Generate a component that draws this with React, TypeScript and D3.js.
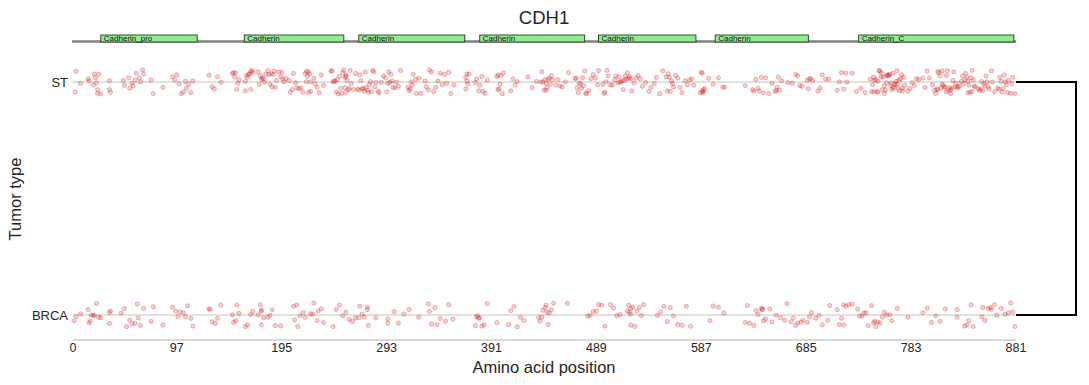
import React from "react";
import * as d3 from "d3";

const GENE = "CDH1";
const PROTEIN_LENGTH = 881;
const X_TICKS = [0, 97, 195, 293, 391, 489, 587, 685, 783, 881];
const TUMOR_TYPES = ["ST", "BRCA"];

const DOMAIN_NAMES = ["Cadherin_pro", "Cadherin", "Cadherin", "Cadherin", "Cadherin", "Cadherin", "Cadherin_C"];
const DOMAIN_STARTS = [26, 160, 267, 380, 491, 600, 734];
const DOMAIN_ENDS = [116, 253, 366, 478, 582, 687, 879];

const ST_POSITIONS = [
  2, 3, 7, 14, 15, 19, 20, 21, 22, 23, 23, 24, 26, 34, 34, 35, 47, 48,
  52, 53, 55, 56, 58, 59, 62, 63, 65, 66, 73, 75, 84, 93, 95, 97, 99, 101,
  103, 105, 106, 108, 110, 112, 127, 130, 132, 135, 138,
  149, 150, 151, 152, 153, 154, 155,
  161, 161, 162, 163, 164, 165, 166, 166, 167, 168,
  173, 174, 175, 176, 177, 178, 179, 180,
  182, 183, 184, 185, 186, 187, 188, 189, 190, 192,
  194, 195, 196, 197, 199,
  202, 203, 205, 206, 208, 209, 211, 213, 215, 217,
  218, 218, 219, 220, 220, 221, 222, 222,
  225, 226, 228, 230, 232, 234,
  241, 242, 243, 244, 245, 246, 247, 248, 249, 250, 251, 252, 253, 254, 254, 255, 255, 255, 256, 257, 258, 259, 260, 262, 264,
  266, 267, 268, 269, 270, 271, 272, 273, 274, 275, 276, 277, 278, 279, 280, 281, 282, 283, 285, 286, 288, 290,
  292, 293, 294, 295, 296, 297, 298, 299, 301, 302, 304, 306,
  313, 314, 315, 316, 317, 318, 320, 321, 323, 325,
  329, 330, 332, 333, 335, 337, 339, 341,
  343, 345, 347, 349, 351, 353, 356,
  367, 367, 368, 368, 369, 370,
  376, 377, 379, 380, 382, 383, 385, 387,
  396, 397, 397, 398, 399, 400, 401, 402,
  409, 411, 413, 415, 425, 429, 433, 437,
  438, 439, 440, 441, 442, 442, 443, 444, 445, 446, 447, 448,
  451, 453, 455, 457, 460, 463,
  469, 470, 471, 472, 473, 474, 475, 476, 477, 478, 479, 480, 482, 484, 486, 488, 490, 491,
  495, 496, 497, 498, 499, 500, 502, 504, 506, 507, 509, 510,
  511, 512, 513, 514, 515, 516, 517, 518, 519, 520, 521, 522, 524, 526, 528, 530, 532, 535,
  538, 540, 543, 545, 548, 551,
  554, 555, 556, 557, 558, 559, 560, 561, 563, 565, 567, 569,
  572, 574, 576, 578, 580,
  586, 587, 588, 588, 588, 589, 589, 590,
  594, 598, 603, 607, 609, 628,
  635, 636, 638, 640, 641, 643, 645, 647,
  650, 653, 656, 657, 658, 659, 660, 662, 668, 672,
  675, 677, 679, 681, 686, 687, 688, 689, 691,
  696, 698, 700, 703, 706, 714, 716, 718, 720, 722, 723,
  728, 732, 736, 740,
  745, 746, 747, 748, 748, 749, 750, 751, 752, 752, 753, 754, 755, 755, 756,
  757, 758, 758, 759, 760, 760, 761, 762, 762, 763, 764, 764, 765, 766, 766, 767, 768, 768, 769, 770, 770, 771, 772, 772, 773, 774, 775, 775, 776, 777,
  780, 782, 784, 786, 788, 790, 794, 796, 798, 800, 803,
  805, 806, 807, 808, 808, 809, 810, 811, 812, 812, 813, 814, 815, 816, 816, 817, 818, 819, 820, 820, 821, 822, 823, 824, 825, 826, 827, 828, 830, 831,
  832, 833, 834, 835, 836, 836, 837, 838, 839, 840, 840, 841, 842, 843,
  846, 847, 848, 849, 850, 851, 852, 853, 854, 855, 856, 858, 859, 861,
  864, 865, 866, 867, 868, 869, 870, 871, 872, 873, 874, 876, 877, 878, 880,
];

const BRCA_POSITIONS = [
  1, 3, 7, 14, 15, 16, 17, 19, 20, 22, 24, 26, 34, 34, 35,
  45, 48, 50, 53, 55, 58, 60, 61, 63, 66, 73, 75, 84,
  93, 96, 98, 100, 103, 105, 107, 110, 112,
  127, 128, 130, 133, 135, 138,
  149, 150, 152, 153, 155, 161, 163, 166, 168,
  173, 175, 176, 176, 176, 178, 182, 184, 186, 189, 194,
  206, 207, 209, 210, 212, 215, 217,
  222, 224, 225, 228, 229, 232, 234,
  243, 246, 249, 252, 255, 258, 261, 264,
  267, 268, 270, 272, 275, 275, 276, 283, 294, 294, 300, 304, 309, 314, 323,
  332, 333, 335, 338, 340, 343, 348, 351, 355,
  376, 377, 378, 379, 380, 382, 384, 387, 396,
  407, 409, 412, 415, 418, 421, 435, 436, 438, 439, 441,
  442, 443, 444, 445, 447, 449, 462,
  481, 483, 486, 489, 491, 494, 497, 502, 505, 508, 511,
  518, 519, 520, 521, 521, 521, 523, 525, 527, 529, 531, 533,
  546, 549, 552, 555, 558, 561, 565, 569, 573, 577, 595, 598, 603, 608,
  628, 630, 632, 636, 638, 640, 643, 644, 644, 645, 647, 651, 653, 657, 661,
  665, 667, 671, 673, 675, 677, 680, 682,
  686, 688, 690, 694, 697, 700, 705, 707,
  714, 716, 718, 720, 720, 722, 725, 728,
  733, 735, 737, 739, 741, 743, 746, 748,
  749, 750, 752, 754, 756, 758, 760, 763, 765, 770,
  780, 794, 798, 802, 806, 810, 815, 826, 826, 833, 835, 837, 839, 841,
  849, 850, 852, 855, 857, 858, 861, 863, 867, 871,
  874, 876, 878, 880,
];

const SERIES = [ST_POSITIONS, BRCA_POSITIONS];

const W = 1089;
const H = 385;
const FONT = "'Liberation Sans', Arial, Helvetica, sans-serif";
const TEXT = "#262626";
const RED = "#d62728";

// deterministic strip-plot jitter (layout only)
function jitterOf(i: number, s: number) {
  const v = Math.sin((i + 1) * 12.9898 + s * 78.233) * 43758.5453;
  return (v - Math.floor(v)) * 2 - 1;
}

export default function App() {
  const x = d3.scaleLinear().domain([0, PROTEIN_LENGTH]).range([73, 1016]);
  const y = d3.scalePoint<string>().domain(TUMOR_TYPES).range([82, 315]);
  const jitter = 12;

  const backboneY = 41.5;
  const boxTop = 35;
  const boxH = 7;

  return (
    <svg
      width={W}
      height={H}
      style={{ position: "absolute", left: 0, top: 0, background: "#fff" }}
      fontFamily={FONT}
    >
      <rect width={W} height={H} fill="#fff" />
      <text x={544} y={24} textAnchor="middle" fontSize={18.5} fill={TEXT}>
        {GENE}
      </text>

      <line x1={x(0) - 1} x2={x(PROTEIN_LENGTH)} y1={backboneY} y2={backboneY} stroke="#808080" strokeWidth={2.5} />
      {DOMAIN_NAMES.map((name, i) => (
        <g key={i}>
          <rect
            x={x(DOMAIN_STARTS[i])}
            y={boxTop}
            width={x(DOMAIN_ENDS[i]) - x(DOMAIN_STARTS[i])}
            height={boxH}
            fill="#90ee90"
            stroke="#1f3d1f"
            strokeWidth={0.9}
          />
          <text x={x(DOMAIN_STARTS[i]) + 3} y={boxTop + 5.5} fontSize={8} fill="#111">
            {name}
          </text>
        </g>
      ))}

      {TUMOR_TYPES.map((t) => (
        <line key={t} x1={x(0)} x2={x(PROTEIN_LENGTH)} y1={y(t)} y2={y(t)} stroke="#c4c4c4" strokeWidth={1} />
      ))}

      {SERIES.map((positions, si) =>
        positions.map((p, i) => (
          <circle
            key={`${si}-${i}`}
            cx={x(p)}
            cy={(y(TUMOR_TYPES[si]) as number) + jitterOf(i, si) * jitter}
            r={2.1}
            fill={RED}
            fillOpacity={0.22}
            stroke={RED}
            strokeOpacity={0.38}
            strokeWidth={0.8}
          />
        ))
      )}

      {TUMOR_TYPES.map((t) => (
        <text key={t} x={68} y={(y(t) as number) + 4.6} textAnchor="end" fontSize={13} fill={TEXT}>
          {t}
        </text>
      ))}

      <line x1={x(0)} x2={x(PROTEIN_LENGTH)} y1={340} y2={340} stroke="#cccccc" strokeWidth={1.3} />
      {X_TICKS.map((t) => (
        <text key={t} x={x(t)} y={352} textAnchor="middle" fontSize={12.5} fill={TEXT}>
          {t}
        </text>
      ))}
      <text x={544} y={373} textAnchor="middle" fontSize={16.5} fill={TEXT}>
        Amino acid position
      </text>
      <text transform="translate(21,199) rotate(-90)" textAnchor="middle" fontSize={16.5} fill={TEXT}>
        Tumor type
      </text>

      <path
        d={`M${x(PROTEIN_LENGTH)},${y("ST")} H1076 V${y("BRCA")} H${x(PROTEIN_LENGTH)}`}
        fill="none"
        stroke="#000"
        strokeWidth={2}
      />
    </svg>
  );
}
